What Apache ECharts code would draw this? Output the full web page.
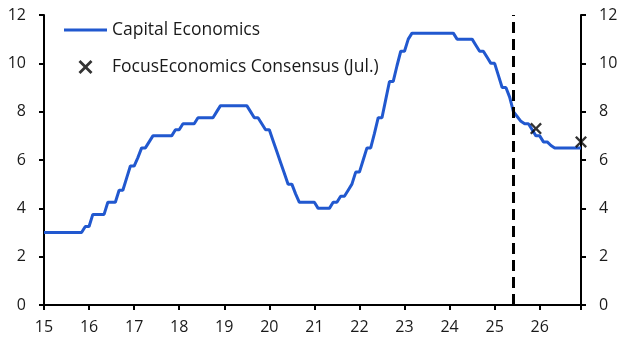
<!DOCTYPE html>
<html>
<head>
<meta charset="utf-8">
<script src="https://cdn.jsdelivr.net/npm/echarts@6/dist/echarts.min.js"></script>
<style>
    html, body { margin: 0; padding: 0; background: #ffffff; }
    #chart { width: 630px; height: 351px; }
</style>
</head>
<body>
<div id="chart"></div>
<script>
    // monthly values, Jan 2015 .. Dec 2026 (one row per year)
    var capitalEconomics = [
        3, 3, 3, 3, 3, 3, 3, 3, 3, 3, 3, 3.25,                               // 2015
        3.25, 3.75, 3.75, 3.75, 3.75, 4.25, 4.25, 4.25, 4.75, 4.75, 5.25, 5.75, // 2016
        5.75, 6.1, 6.5, 6.5, 6.75, 7, 7, 7, 7, 7, 7, 7.25,                    // 2017
        7.25, 7.5, 7.5, 7.5, 7.5, 7.75, 7.75, 7.75, 7.75, 7.75, 8, 8.25,      // 2018
        8.25, 8.25, 8.25, 8.25, 8.25, 8.25, 8.25, 8, 7.75, 7.75, 7.5, 7.25,   // 2019
        7.25, 6.8, 6.35, 5.9, 5.45, 5, 5, 4.6, 4.25, 4.25, 4.25, 4.25,        // 2020
        4.25, 4, 4, 4, 4, 4.25, 4.25, 4.5, 4.5, 4.75, 5, 5.5,                 // 2021
        5.5, 6, 6.5, 6.5, 7.1, 7.75, 7.75, 8.5, 9.25, 9.25, 9.9, 10.5,        // 2022
        10.5, 11, 11.25, 11.25, 11.25, 11.25, 11.25, 11.25, 11.25, 11.25, 11.25, 11.25, // 2023
        11.25, 11.25, 11, 11, 11, 11, 11, 10.75, 10.5, 10.5, 10.25, 10,       // 2024
        10, 9.5, 9, 9, 8.6, 8, 7.8, 7.6, 7.5, 7.5, 7.25, 7,                   // 2025
        7, 6.75, 6.75, 6.6, 6.5, 6.5, 6.5, 6.5, 6.5, 6.5, 6.5, 6.5            // 2026
    ];
    // FocusEconomics consensus, end of year (Dec 25, Dec 26)
    var consensusX = [25 + 11 / 12, 26 + 11 / 12];
    var consensusY = [7.3, 6.75];
    var forecastStart = 25 + 5 / 12;   // Jun 2025
    var xMin = 15, xMax = 26 + 11 / 12;

    var lineData = [];
    for (var i = 0; i < capitalEconomics.length; i++) {
        lineData.push([15 + i / 12, capitalEconomics[i]]);
    }
    var consData = [];
    for (var j = 0; j < consensusX.length; j++) {
        consData.push([consensusX[j], consensusY[j]]);
    }

    var font = 'Open Sans';
    var crossPath = 'path://M0,1.4L1.4,0L5,3.6L8.6,0L10,1.4L6.4,5L10,8.6L8.6,10L5,6.4L1.4,10L0,8.6L3.6,5Z';
    var linePath = 'path://M0,0H43V3H0Z';

    var yAxisCommon = {
        type: 'value',
        min: 0,
        max: 12,
        interval: 2,
        splitLine: {show: false},
        axisLine: {show: true, lineStyle: {color: '#000', width: 2}},
        axisTick: {show: true, length: 5, lineStyle: {color: '#000', width: 2}},
        axisLabel: {color: '#1a1a1a', fontSize: 16, fontFamily: font, margin: 18}
    };

    var myChart = echarts.init(document.getElementById('chart'), null, {renderer: 'canvas'});
    myChart.setOption({
        animation: false,
        grid: {left: 44, right: 49, top: 15, bottom: 46},
        legend: {
            orient: 'vertical',
            left: 64,
            top: 21,
            padding: 0,
            itemWidth: 43,
            itemHeight: 14,
            itemGap: 19,
            textStyle: {color: '#1a1a1a', fontSize: 17.5, fontFamily: font, lineHeight: 14},
            data: [
                {name: 'Capital Economics', icon: linePath, itemStyle: {color: '#2158cf'}},
                {name: 'FocusEconomics Consensus (Jul.)', icon: crossPath, itemStyle: {color: '#000'}}
            ]
        },
        xAxis: {
            type: 'value',
            min: xMin,
            max: xMax,
            interval: 1,
            splitLine: {show: false},
            axisLine: {lineStyle: {color: '#000', width: 2}},
            axisTick: {length: 5, lineStyle: {color: '#000', width: 2}},
            axisLabel: {
                color: '#1a1a1a', fontSize: 16, fontFamily: font, margin: 14,
                formatter: function (v) {
                    return Math.abs(v - Math.round(v)) < 1e-6 ? String(Math.round(v)) : '';
                }
            }
        },
        yAxis: [
            Object.assign({position: 'left'}, yAxisCommon),
            Object.assign({position: 'right'}, yAxisCommon)
        ],
        series: [
            {
                name: 'Capital Economics',
                type: 'line',
                data: lineData,
                symbol: 'none',
                lineStyle: {color: '#2158cf', width: 3},
                itemStyle: {color: '#2158cf'},
                markLine: {
                    silent: true,
                    symbol: 'none',
                    label: {show: false},
                    lineStyle: {color: '#000', width: 3, type: [11, 6]},
                    data: [{xAxis: forecastStart}]
                },
                z: 3
            },
            {
                name: 'FocusEconomics Consensus (Jul.)',
                type: 'scatter',
                data: consData,
                symbol: crossPath,
                symbolSize: 12,
                itemStyle: {color: '#000'},
                z: 4
            }
        ]
    });
</script>
</body>
</html>
